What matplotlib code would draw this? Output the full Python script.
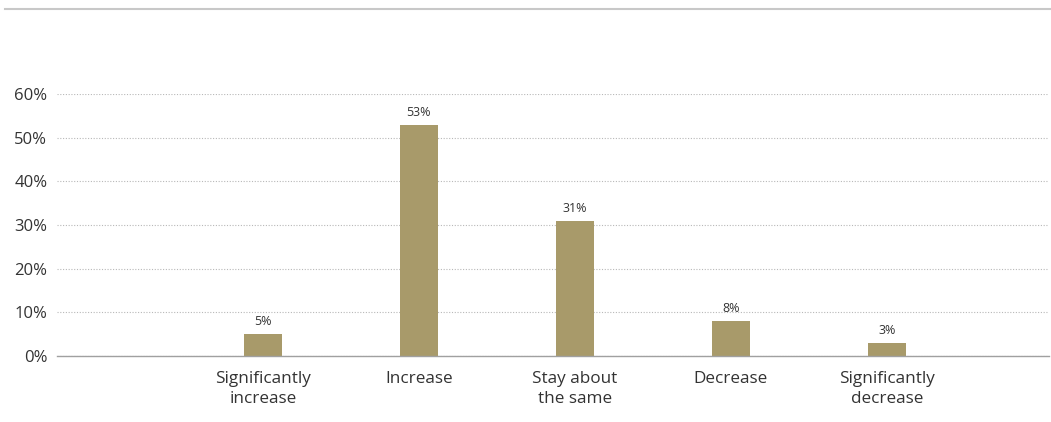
"""Survey response distribution bar chart."""
import numpy as np
import matplotlib
matplotlib.use("Agg")
import matplotlib.pyplot as plt
from matplotlib.lines import Line2D

# ── data ─────────────────────────────────────────────────────────────────────
categories = ["Significantly\nincrease", "Increase", "Stay about\nthe same",
              "Decrease", "Significantly\ndecrease"]
values = [5, 53, 31, 8, 3]
yticks = [0, 10, 20, 30, 40, 50, 60]

# ── palette ──────────────────────────────────────────────────────────────────
BG   = "#ffffff"
BAR  = "#a89a6a"
TEXT = "#333333"
AXIS = "#a0a0a0"
GRID = "#b8b8b8"
TOP  = "#c8c8c8"

plt.rcParams["font.family"] = ["Open Sans", "DejaVu Sans"]

fig = plt.figure(figsize=(10.51, 4.22), dpi=100, facecolor=BG)
# axes: x 57..1049 px, y 94..356 px (0..60%)
ax = fig.add_axes([57 / 1051, (422 - 356) / 422, (1049 - 57) / 1051, (356 - 94) / 422])
ax.set_facecolor(BG)

x = np.arange(len(categories))
bars = ax.bar(x, values, width=0.245, color=BAR, zorder=3)

for bar, v in zip(bars, values):
    ax.text(bar.get_x() + bar.get_width() / 2, v + 1.3, f"{v}%",
            ha="center", va="bottom", fontsize=9, color=TEXT)

ax.set_xlim(-1.32, 5.04)
ax.set_ylim(0, 60)
ax.set_yticks(yticks)
ax.set_yticklabels([f"{t}%" for t in yticks], fontsize=12, color=TEXT)
ax.set_xticks(x)
ax.set_xticklabels(categories, fontsize=12.3, color=TEXT, linespacing=1.3)
ax.tick_params(axis="y", length=0, pad=7)
ax.tick_params(axis="x", length=0, pad=11)

for s in ["top", "right", "left"]:
    ax.spines[s].set_visible(False)
ax.spines["bottom"].set_color(AXIS)
ax.spines["bottom"].set_linewidth(1.0)
ax.spines["bottom"].set_zorder(4)

ax.grid(axis="y", color=GRID, linestyle=(0, (1, 1.5)), linewidth=0.8, zorder=0)
ax.set_axisbelow(True)

# thin rule at top of figure
fig.add_artist(Line2D([5 / 1051, 1.0], [1 - 9 / 422, 1 - 9 / 422],
                      color=TOP, linewidth=1.5, transform=fig.transFigure))

plt.savefig("out.png", dpi=100, facecolor=BG)
plt.close()
